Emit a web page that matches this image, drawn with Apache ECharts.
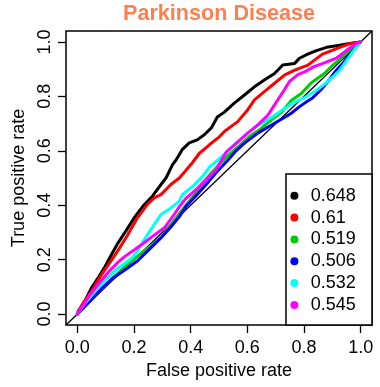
<!DOCTYPE html>
<html>
<head>
<meta charset="utf-8">
<script src="https://cdn.jsdelivr.net/npm/echarts@6/dist/echarts.min.js"></script>
<style>
html,body{margin:0;padding:0;background:#fff;}
#chart{width:380px;height:387px;}
</style>
</head>
<body>
<div id="chart"></div>
<script>
// ---- data ----
const titleText = 'Parkinson Disease';
const xName = 'False positive rate';
const yName = 'True positive rate';
const tickValues = [0, 0.2, 0.4, 0.6, 0.8, 1.0];
const axisRange = [-0.04, 1.04];
const aucLabels = ['0.648', '0.61', '0.519', '0.506', '0.532', '0.545'];
const diagLine = [[-0.04, -0.04], [1.04, 1.04]];

const roc648 = [[0,0],[0.004,0.012],[0.027,0.049],[0.051,0.098],[0.074,0.134],[0.098,0.175],[0.122,0.222],[0.141,0.257],[0.171,0.305],[0.201,0.354],[0.236,0.402],[0.265,0.433],[0.295,0.476],[0.313,0.500],[0.336,0.549],[0.349,0.567],[0.370,0.604],[0.395,0.629],[0.423,0.640],[0.448,0.659],[0.473,0.684],[0.494,0.724],[0.519,0.742],[0.554,0.775],[0.590,0.805],[0.625,0.835],[0.660,0.860],[0.696,0.884],[0.725,0.915],[0.767,0.921],[0.784,0.940],[0.813,0.955],[0.844,0.968],[0.880,0.980],[0.926,0.988],[0.961,0.994],[1,1]];
const roc610 = [[0,0],[0.020,0.040],[0.051,0.085],[0.086,0.146],[0.122,0.200],[0.151,0.246],[0.177,0.290],[0.212,0.354],[0.248,0.404],[0.271,0.427],[0.295,0.439],[0.330,0.476],[0.360,0.500],[0.370,0.512],[0.406,0.556],[0.430,0.590],[0.466,0.622],[0.501,0.651],[0.519,0.671],[0.566,0.707],[0.601,0.750],[0.625,0.787],[0.660,0.817],[0.696,0.848],[0.731,0.878],[0.767,0.896],[0.814,0.915],[0.837,0.933],[0.865,0.955],[0.897,0.968],[0.926,0.980],[0.961,0.993],[1,1]];
const roc519 = [[0,0],[0.027,0.035],[0.074,0.082],[0.122,0.130],[0.177,0.183],[0.236,0.232],[0.295,0.281],[0.342,0.345],[0.395,0.415],[0.430,0.462],[0.466,0.510],[0.501,0.550],[0.537,0.588],[0.572,0.618],[0.607,0.652],[0.643,0.677],[0.684,0.713],[0.719,0.740],[0.755,0.785],[0.790,0.810],[0.826,0.850],[0.873,0.885],[0.902,0.915],[0.926,0.936],[0.949,0.960],[0.985,0.990],[1,1]];
const roc506 = [[0,0],[0.051,0.055],[0.086,0.095],[0.122,0.130],[0.165,0.160],[0.212,0.195],[0.260,0.244],[0.295,0.280],[0.330,0.320],[0.360,0.358],[0.383,0.395],[0.419,0.435],[0.454,0.475],[0.490,0.520],[0.531,0.565],[0.560,0.600],[0.590,0.628],[0.637,0.665],[0.696,0.701],[0.737,0.726],[0.755,0.738],[0.784,0.762],[0.802,0.775],[0.831,0.795],[0.861,0.825],[0.890,0.862],[0.914,0.896],[0.937,0.921],[0.961,0.955],[0.985,0.982],[1,1]];
const roc532 = [[0,0],[0.027,0.040],[0.063,0.085],[0.098,0.125],[0.133,0.160],[0.169,0.188],[0.192,0.205],[0.212,0.232],[0.248,0.293],[0.271,0.329],[0.295,0.366],[0.330,0.390],[0.360,0.415],[0.371,0.440],[0.407,0.469],[0.442,0.506],[0.466,0.540],[0.490,0.561],[0.525,0.592],[0.560,0.628],[0.596,0.660],[0.631,0.689],[0.666,0.710],[0.707,0.738],[0.755,0.772],[0.802,0.795],[0.837,0.818],[0.873,0.845],[0.902,0.872],[0.926,0.896],[0.949,0.930],[0.973,0.965],[1,1]];
const roc545 = [[0,0],[0.039,0.063],[0.074,0.110],[0.110,0.155],[0.145,0.192],[0.169,0.213],[0.204,0.238],[0.236,0.262],[0.271,0.290],[0.307,0.317],[0.342,0.366],[0.360,0.395],[0.383,0.425],[0.419,0.457],[0.454,0.494],[0.490,0.531],[0.525,0.595],[0.566,0.632],[0.601,0.665],[0.637,0.695],[0.672,0.730],[0.700,0.775],[0.725,0.815],[0.749,0.855],[0.778,0.880],[0.808,0.893],[0.837,0.910],[0.867,0.921],[0.914,0.940],[0.949,0.968],[0.985,0.994],[1,1]];

const curves = [roc648, roc610, roc519, roc506, roc532, roc545];
const colors = ['#000000', '#FF0000', '#00CD00', '#0000FF', '#00FFFF', '#FF00FF'];

// ---- chart ----
const FONT = '"Liberation Sans", Arial, Helvetica, sans-serif';
const chart = echarts.init(document.getElementById('chart'), null, {renderer: 'canvas'});

const series = [{
  type: 'line',
  name: 'diag',
  data: diagLine,
  showSymbol: false,
  silent: true,
  lineStyle: {color: '#000', width: 1.3},
  z: 1
}];
curves.forEach((c, i) => {
  series.push({
    type: 'line',
    name: aucLabels[i],
    data: c,
    showSymbol: false,
    symbol: 'circle',
    itemStyle: {color: colors[i]},
    lineStyle: {color: colors[i], width: 3, join: 'round', cap: 'round'},
    z: 2 + i
  });
});

const axisCommon = {
  type: 'value',
  min: axisRange[0],
  max: axisRange[1],
  axisLine: {show: false, onZero: false},
  splitLine: {show: false},
  axisTick: {show: true, inside: false, length: 8, lineStyle: {color: '#000', width: 1.3}, customValues: tickValues},
  axisLabel: {color: '#000', fontSize: 18, fontFamily: FONT, customValues: tickValues,
    formatter: v => v.toFixed(1)},
  nameLocation: 'middle',
  nameTextStyle: {color: '#000', fontSize: 18, fontFamily: FONT}
};

chart.setOption({
  animation: false,
  backgroundColor: '#fff',
  title: {
    text: titleText,
    left: 219, top: 3, padding: 0,
    textAlign: 'center',
    textStyle: {color: '#FF7F50', fontSize: 21.6, fontWeight: 'bold', fontFamily: FONT}
  },
  grid: {left: 66, right: 8, top: 31, bottom: 62, show: true, borderColor: '#000', borderWidth: 1.5, backgroundColor: 'transparent'},
  xAxis: Object.assign({}, axisCommon, {
    name: xName, nameGap: 36,
    axisLabel: Object.assign({}, axisCommon.axisLabel, {margin: 14})
  }),
  yAxis: Object.assign({}, axisCommon, {
    name: yName, nameGap: 29,
    axisLabel: Object.assign({}, axisCommon.axisLabel, {margin: 12, rotate: 90})
  }),
  legend: {
    data: aucLabels,
    orient: 'vertical',
    left: 290.4, top: 186.7,
    padding: 0,
    icon: 'circle',
    itemWidth: 22.6, itemHeight: 8,
    itemGap: 3.85,
    selectedMode: false,
    z: 50,
    textStyle: {color: '#000', fontSize: 18, fontFamily: FONT, lineHeight: 18}
  },
  graphic: [{
    type: 'rect',
    shape: {x: 286, y: 174, width: 86, height: 151},
    style: {fill: '#fff', stroke: '#000', lineWidth: 1.5},
    z: 10
  }],
  series: series
});
</script>
</body>
</html>
